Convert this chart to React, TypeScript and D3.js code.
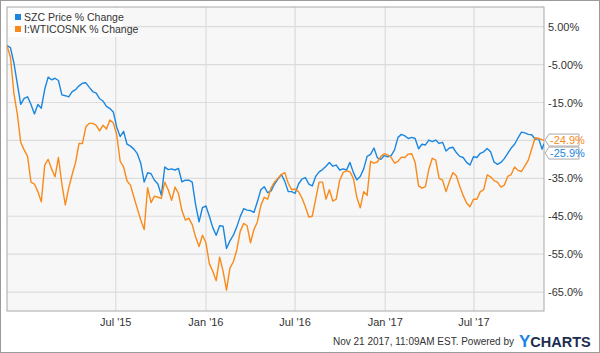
import * as d3 from 'd3';
import React from 'react';

// weekly closes, % change since 2014-11-21
const dates = [
  '2014-11-21', '2014-11-28', '2014-12-05', '2014-12-12', '2014-12-19', '2014-12-26',
  '2015-01-02', '2015-01-09', '2015-01-16', '2015-01-23', '2015-01-30', '2015-02-06', '2015-02-13',
  '2015-02-20', '2015-02-27', '2015-03-06', '2015-03-13', '2015-03-20', '2015-03-27', '2015-04-03',
  '2015-04-10', '2015-04-17', '2015-04-24', '2015-05-01', '2015-05-08', '2015-05-15', '2015-05-22',
  '2015-05-29', '2015-06-05', '2015-06-12', '2015-06-19', '2015-06-26', '2015-07-03', '2015-07-10',
  '2015-07-17', '2015-07-24', '2015-07-31', '2015-08-07', '2015-08-14', '2015-08-21', '2015-08-28',
  '2015-09-04', '2015-09-11', '2015-09-18', '2015-09-25', '2015-10-02', '2015-10-09', '2015-10-16',
  '2015-10-23', '2015-10-30', '2015-11-06', '2015-11-13', '2015-11-20', '2015-11-27', '2015-12-04',
  '2015-12-11', '2015-12-18', '2015-12-25',
  '2016-01-01', '2016-01-08', '2016-01-15', '2016-01-22', '2016-01-29', '2016-02-05', '2016-02-12',
  '2016-02-19', '2016-02-26', '2016-03-04', '2016-03-11', '2016-03-18', '2016-03-25', '2016-04-01',
  '2016-04-08', '2016-04-15', '2016-04-22', '2016-04-29', '2016-05-06', '2016-05-13', '2016-05-20',
  '2016-05-27', '2016-06-03', '2016-06-10', '2016-06-17', '2016-06-24', '2016-07-01', '2016-07-08',
  '2016-07-15', '2016-07-22', '2016-07-29', '2016-08-05', '2016-08-12', '2016-08-19', '2016-08-26',
  '2016-09-02', '2016-09-09', '2016-09-16', '2016-09-23', '2016-09-30', '2016-10-07', '2016-10-14',
  '2016-10-21', '2016-10-28', '2016-11-04', '2016-11-11', '2016-11-18', '2016-11-25', '2016-12-02',
  '2016-12-09', '2016-12-16', '2016-12-23', '2016-12-30',
  '2017-01-06', '2017-01-13', '2017-01-20', '2017-01-27', '2017-02-03', '2017-02-10', '2017-02-17',
  '2017-02-24', '2017-03-03', '2017-03-10', '2017-03-17', '2017-03-24', '2017-03-31', '2017-04-07',
  '2017-04-14', '2017-04-21', '2017-04-28', '2017-05-05', '2017-05-12', '2017-05-19', '2017-05-26',
  '2017-06-02', '2017-06-09', '2017-06-16', '2017-06-23', '2017-06-30', '2017-07-07', '2017-07-14',
  '2017-07-21', '2017-07-28', '2017-08-04', '2017-08-11', '2017-08-18', '2017-08-25', '2017-09-01',
  '2017-09-08', '2017-09-15', '2017-09-22', '2017-09-29', '2017-10-06', '2017-10-13', '2017-10-20',
  '2017-10-27', '2017-11-03', '2017-11-10', '2017-11-17', '2017-11-21',
];

const szcChange = [
  0, -0.5, -4.5, -10, -15.5, -13.9, -13.5, -15.5, -18, -15.5,
  -16.5, -11.5, -8.3, -9.0, -8.6, -9.2, -13.0, -13.2, -13.5, -12.1,
  -11.6, -10.6, -9.9, -9.8, -11.0, -12.1, -12.5, -14.0, -14.6, -16.0,
  -16.6, -17.5, -21.5, -24.0, -22.6, -26.0, -26.5, -27.3, -28.5, -31.0,
  -36, -33.5, -33.8, -35.5, -36.5, -39.5, -32.0, -32.7, -32.5, -32.8,
  -32.4, -35.9, -35.5, -35.5, -36.0, -42.0, -46.5, -42.7, -42.3, -45,
  -48, -50, -47.5, -47.6, -53.5, -51.5, -50, -47.8, -45.1, -43,
  -43.4, -43.5, -44, -41.2, -38, -37.2, -38.8, -38.3, -36.5, -35.2,
  -34, -35.8, -38.5, -38.5, -39, -36.5, -35.2, -34.8, -36.5, -37,
  -34.5, -33.3, -32.7, -31.8, -30.8, -31.8, -31.5, -32.8, -32.5, -32.8,
  -30.8, -33.5, -35.4, -34.5, -32.5, -29.2, -28.7, -27, -29.6, -30,
  -29, -29.3, -29, -27.5, -24.2, -23.4, -23.8, -24.5, -24.2, -24.5,
  -27.2, -26, -26.2, -24.9, -25.3, -24.9, -25.8, -25.5, -27.8, -27,
  -26.8, -28.2, -29.2, -29.5, -30.8, -31.5, -29.3, -29.5, -28.4, -28,
  -27.1, -28, -30.7, -31.3, -30.8, -29.8, -28.4, -27, -26, -24.3,
  -22.8, -23, -23.4, -23.5, -24.7, -24.5, -27.3, -25.9,
];

const wtiChange = [
  0, -3, -12.5, -18, -25.5, -27.5, -29.2, -36, -36.5, -38.5,
  -41.2, -31.5, -30, -32.5, -34.6, -29.5, -36.5, -42, -37.5, -34,
  -30.8, -25.8, -25.8, -21.4, -20.5, -20.5, -21, -22.5, -21, -22,
  -19.6, -20.4, -23.5, -30.5, -32, -35.7, -36.8, -40, -43, -46,
  -48.5, -37.5, -41.4, -39.7, -40, -40.3, -36, -38, -40.8, -37.3,
  -39, -43.5, -46, -45.5, -47.2, -50.5, -53, -50, -52, -57.5,
  -59.5, -62, -55.8, -59.5, -64.5, -58.7, -57, -53.9, -49, -46.9,
  -47.5, -52, -48.5, -46.5, -42.2, -40, -40.5, -37.5, -36, -35,
  -34, -33.5, -36.3, -38, -37.8, -38.5, -40.2, -42.5, -45.2, -45,
  -40.5, -36, -36, -40.5, -38, -41, -40.5, -35.5, -33.5, -33,
  -33.3, -35, -40, -42.8, -38.5, -39.5, -30.5, -31, -30.7, -29.2,
  -28.5, -28.8, -29.5, -31, -30.5, -29.4, -29.5, -28.6, -28.5, -30.8,
  -37, -37.6, -37.2, -32.6, -29.7, -30.2, -35, -35.5, -38.5, -35.8,
  -33.5, -34.3, -37.1, -39.5, -41.5, -42.5, -40.5, -40.5, -38.5, -38,
  -34.1, -34.6, -35.6, -36, -37.3, -36.8, -34.5, -34, -32, -32.9,
  -33.2, -31.7, -30.2, -27.2, -24.3, -24.5, -24.8, -24.9,
];

const seriesNames = ['SZC Price % Change', 'I:WTICOSNK % Change'];
const seriesColors = ['#1a86e0', '#f98a1a'];

const yTicks = [5, -5, -15, -25, -35, -45, -55, -65];
const yTickLabels = ['5.00%', '-5.00%', '-15.0%', '-25.0%', '-35.0%', '-45.0%', '-55.0%', '-65.0%'];
const xTicks = ['2015-07-01', '2016-01-01', '2016-07-01', '2017-01-01', '2017-07-01'];
const xTickLabels = ["Jul '15", "Jan '16", "Jul '16", "Jan '17", "Jul '17"];

const width = 600;
const height = 353;
const plot = { left: 7, right: 544, top: 7, bottom: 311 };
const font = '"Liberation Sans", Arial, sans-serif';

const App: React.FC = () => {
  const parse = d3.timeParse('%Y-%m-%d');
  const days = dates.map((d) => parse(d) as Date);

  const x = d3
    .scaleTime()
    .domain([days[0], days[days.length - 1]])
    .range([plot.left, plot.right]);
  const y = d3.scaleLinear().domain([-70, 10.2]).range([plot.bottom, plot.top]);

  const line = d3
    .line<number>()
    .x((_, i) => x(days[i]))
    .y((d) => y(d));

  const series = [szcChange, wtiChange];

  // end-value tags, orange on top, blue pushed below so they don't overlap
  const lastW = wtiChange[wtiChange.length - 1];
  const lastS = szcChange[szcChange.length - 1];
  const tagW = y(lastW);
  const tagS = Math.max(y(lastS), tagW + 13);
  const tags = [
    { cy: tagW, text: lastW.toFixed(1) + '%', color: seriesColors[1] },
    { cy: tagS, text: lastS.toFixed(1) + '%', color: seriesColors[0] },
  ];
  const tagPath = (cy: number) => {
    const x0 = plot.right + 1;
    return `M${x0},${cy} L${x0 + 4},${cy - 6} L${x0 + 34},${cy - 6} L${x0 + 34},${cy + 6} L${x0 + 4},${cy + 6} Z`;
  };

  return (
    <svg
      width={width}
      height={height}
      viewBox={`0 0 ${width} ${height}`}
      style={{ position: 'absolute', left: 0, top: 0, display: 'block', background: '#fff' }}
      fontFamily={font}
    >
      <rect x={0.5} y={0.5} width={width - 1} height={height - 1} fill="#fff" stroke="#9a9a9a" />
      <rect
        x={plot.left}
        y={plot.top}
        width={plot.right - plot.left}
        height={plot.bottom - plot.top}
        fill="#f7f7f7"
      />
      {yTicks.map((t) => (
        <line key={'gy' + t} x1={plot.left} x2={plot.right} y1={y(t)} y2={y(t)} stroke="#dcdcdc" strokeWidth={1.2} />
      ))}
      {xTicks.map((t) => {
        const px = x(parse(t) as Date);
        return <line key={'gx' + t} x1={px} x2={px} y1={plot.top} y2={plot.bottom} stroke="#dcdcdc" strokeWidth={1.2} />;
      })}
      <rect
        x={plot.left}
        y={plot.top}
        width={plot.right - plot.left}
        height={plot.bottom - plot.top}
        fill="none"
        stroke="#a8a8a8"
      />

      <g clipPath="url(#plotClip)">
        <defs>
          <clipPath id="plotClip">
            <rect x={plot.left} y={plot.top} width={plot.right - plot.left} height={plot.bottom - plot.top} />
          </clipPath>
        </defs>
        {series.map((s, i) => (
          <path key={i} d={line(s) || ''} fill="none" stroke={seriesColors[i]} strokeWidth={1.4} strokeLinejoin="round" />
        ))}
      </g>

      {yTicks.map((t, i) =>
        Math.abs(y(t) - tagW) < 10 || Math.abs(y(t) - tagS) < 10 ? null : (
          <text key={'ty' + t} x={plot.right + 4} y={y(t) + 4} fontSize={11} fill="#333">
            {yTickLabels[i]}
          </text>
        )
      )}
      {xTicks.map((t, i) => (
        <text key={'tx' + t} x={x(parse(t) as Date)} y={326} fontSize={11} fill="#333" textAnchor="middle">
          {xTickLabels[i]}
        </text>
      ))}

      {tags.map((tg, i) => (
        <g key={'tag' + i}>
          <path d={tagPath(tg.cy)} fill="#fff" stroke="#aaa" />
          <text x={plot.right + 6} y={tg.cy + 4} fontSize={11} fill={tg.color}>
            {tg.text}
          </text>
        </g>
      ))}

      <rect x={8} y={8} width={115} height={29} fill="#fff" opacity={0.75} />
      {seriesNames.map((n, i) => (
        <g key={n}>
          <rect x={15} y={14 + i * 12} width={6} height={6} fill={seriesColors[i]} />
          <text x={24} y={20.5 + i * 12} fontSize={10.5} fill="#333">
            {n}
          </text>
        </g>
      ))}

      <text x={514} y={345} fontSize={10} fill="#333" textAnchor="end">
        Nov 21 2017, 11:09AM EST.  Powered by
      </text>
      <text x={519} y={347} fontSize={14.5} fontWeight="bold" fill="#1d2d4e">
        <tspan fill="#1a86e0" fontSize={17}>Y</tspan>CHARTS
      </text>
    </svg>
  );
};

export default App;
